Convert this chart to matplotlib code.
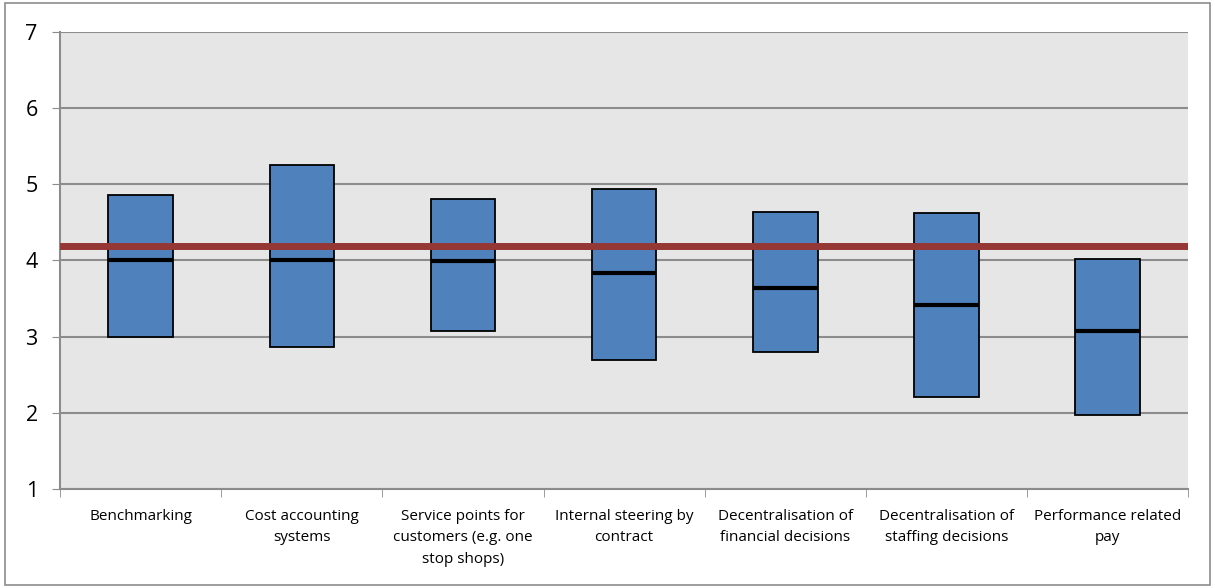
import matplotlib.pyplot as plt
import numpy as np

categories = ['Benchmarking', 'Cost accounting\nsystems',
              'Service points for\ncustomers (e.g. one\nstop shops)',
              'Internal steering by\ncontract', 'Decentralisation of\nfinancial decisions',
              'Decentralisation of\nstaffing decisions', 'Performance related\npay']
low = [3.0, 2.86, 3.07, 2.70, 2.80, 2.21, 1.97]
high = [4.86, 5.25, 4.80, 4.94, 4.64, 4.62, 4.02]
median = [4.01, 4.01, 3.99, 3.83, 3.64, 3.41, 3.08]
reference = 4.19

plt.rcParams['font.family'] = ['Open Sans', 'DejaVu Sans']

fig = plt.figure(figsize=(12.15, 5.88), dpi=100)
# grey frame around the whole chart
fig.patches.append(plt.Rectangle((0.004, 0.005), 0.992, 0.99, transform=fig.transFigure,
                                 fill=False, edgecolor='#8c8c8c', lw=1.2))
ax = fig.add_axes([0.0494, 0.168, 0.9286, 0.778])
ax.set_facecolor('#e6e6e6')

x = np.arange(len(categories)) + 0.5
w = 0.4
ax.bar(x, np.array(high) - np.array(low), bottom=low, width=w,
       color='#4f81bd', edgecolor='black', linewidth=1.3, zorder=3)
ax.hlines(median, x - w / 2, x + w / 2, colors='black', linewidth=3, zorder=4)
ax.axhline(reference, color='#953735', linewidth=5, zorder=5)

ax.set_xlim(0, 7)
ax.set_ylim(1, 7)
ax.set_yticks(range(1, 8))
ax.yaxis.grid(True, color='#8c8c8c', linewidth=1.5)
ax.set_axisbelow(True)
ax.tick_params(axis='y', labelsize=15.5, length=6, color='#8c8c8c', pad=10)

ax.set_xticks(x)
ax.set_xticklabels(categories, fontsize=11, linespacing=1.6)
ax.set_xticks(np.arange(0, 8), minor=True)
ax.tick_params(axis='x', which='major', length=0, pad=14)
ax.tick_params(axis='x', which='minor', length=6, color='#8c8c8c')

for side in ['top', 'right']:
    ax.spines[side].set_visible(False)
ax.spines['left'].set_color('#8c8c8c')
ax.spines['bottom'].set_color('#8c8c8c')
ax.spines['left'].set_linewidth(1.5)
ax.spines['bottom'].set_linewidth(1.5)

plt.savefig('out.png', dpi=100)
